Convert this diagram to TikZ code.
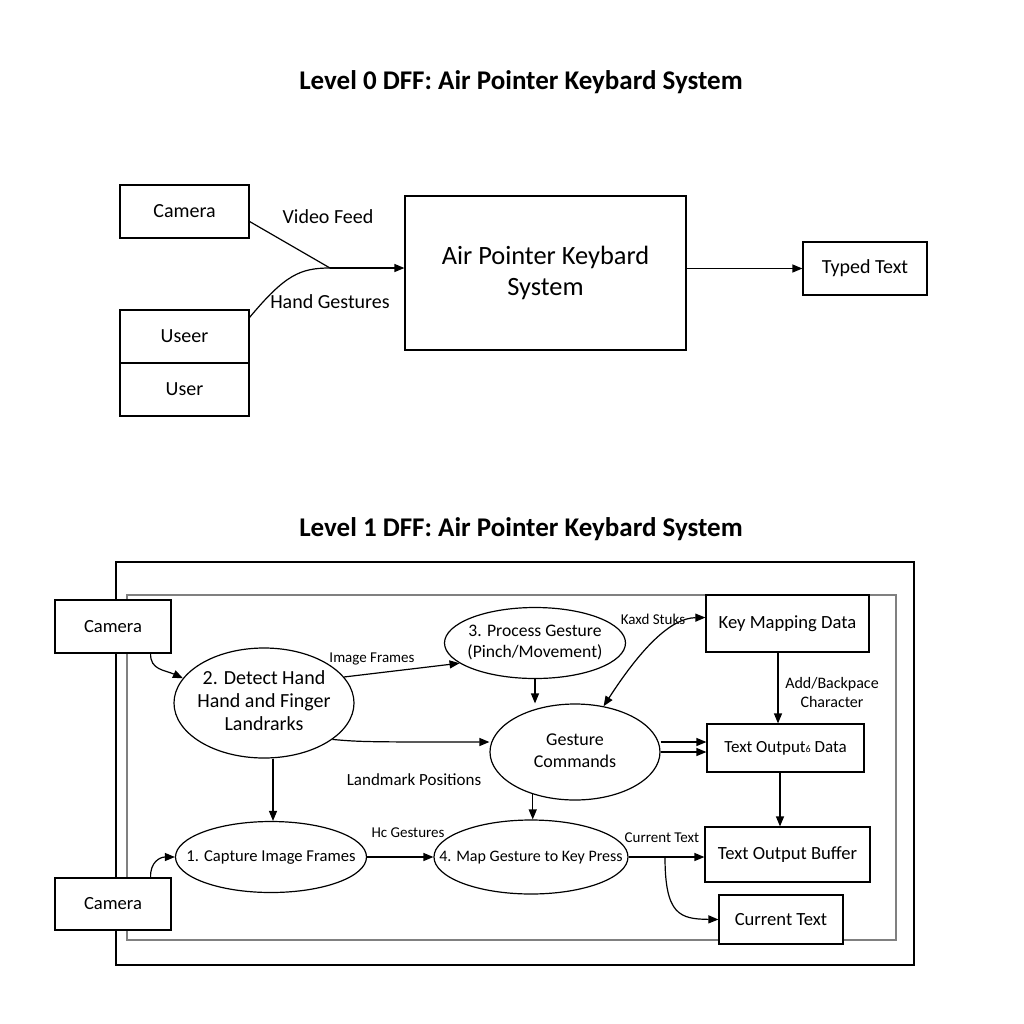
\documentclass[tikz,border=0pt]{standalone}
\usepackage{fontspec}
\setmainfont{Carlito}
\usetikzlibrary{shapes.geometric,arrows.meta,calc}
\newcommand{\zwtext}[1]{\makebox[0pt][c]{\begin{tabular}{@{}c@{}}#1\end{tabular}}}
\begin{document}
\begin{tikzpicture}[x=0.5pt,y=-0.5pt,
  box/.style={draw,line width=0.6pt,inner sep=0pt,align=center,font=\fontsize{10}{12}\selectfont},
  ebox/.style={draw,line width=0.6pt,inner sep=0pt,align=center,font=\fontsize{9.3}{11}\selectfont},
  proc/.style={draw,ellipse,line width=0.6pt,inner sep=0pt,font=\fontsize{8.5}{10.5}\selectfont},
  flow/.style={line width=0.6pt,-{Triangle[length=5pt,width=4pt]}},
  lbl/.style={font=\fontsize{10}{12}\selectfont,inner sep=1pt},
  slbl/.style={font=\fontsize{7.5}{9}\selectfont,inner sep=1pt,align=center},
  title/.style={font=\bfseries\fontsize{13.5}{16}\selectfont}]
\useasboundingbox (0,0) rectangle (1024,1024);
\fill[white] (0,0) rectangle (1024,1024);

% ---------- Level 0 ----------
\node[title] (t0) at (521,82) {Level 0 DFF: Air Pointer Keybard System};
\node[box,minimum width=64.5pt,minimum height=26.5pt] (cam0) at (184.5,211.5) {Camera};
\node[box,minimum width=64.5pt,minimum height=26.5pt] (u1) at (184.5,336.5) {Useer};
\node[box,minimum width=64.5pt,minimum height=26.5pt] (u2) at (184.5,389.5) {User};
\node[box,minimum width=140.5pt,minimum height=77pt,font=\fontsize{13.2}{15.5}\selectfont] (sys) at (545.5,273) {Air Pointer Keybard\\System};
\node[box,minimum width=62pt,minimum height=26.5pt] (typed) at (865,268.5) {Typed Text};
\coordinate (m) at (330,268);
\draw[line width=0.6pt] ($(cam0.east)+(0,10)$) -- (m);
\draw[line width=0.6pt] ($(u1.north east)+(0,8)$) .. controls (285,275) and (300,268) .. (m);
\draw[flow] (m) -- (sys.west |- m);
\draw[flow] (sys.east |- typed) -- (typed.west);
\node[lbl] (vf) at (328,217) {Video Feed};
\node[lbl] (hg) at (330,302) {Hand Gestures};

% ---------- Level 1 ----------
\node[title] (t1) at (521,529) {Level 1 DFF: Air Pointer Keybard System};
\draw[line width=0.7pt] (116,562) rectangle (914,965);
\draw[line width=0.6pt,gray] (127,595) rectangle (896,940);

\node[ebox,fill=white,minimum width=58pt,minimum height=26.5pt] (camA) at (113,626.5) {Camera};
\node[ebox,fill=white,minimum width=58pt,minimum height=26pt] (camB) at (113,904) {Camera};
\node[ebox,fill=white,minimum width=81.5pt,minimum height=28.5pt] (kmd) at (787.5,623.5) {Key Mapping Data};
\node[ebox,fill=white,minimum width=78.5pt,minimum height=24pt,font=\fontsize{8.5}{10}\selectfont] (tod) at (785.5,748) {Text Output{\fontsize{5}{6}\selectfont 6} Data};
\node[ebox,fill=white,minimum width=82.5pt,minimum height=27.5pt] (tob) at (787.5,854.5) {Text Output Buffer};
\node[ebox,fill=white,minimum width=62pt,minimum height=24.5pt] (ct) at (781,919.5) {Current Text};

\node[proc,minimum width=90pt,minimum height=55pt,font=\fontsize{10}{11.5}\selectfont] (p2) at (264,703) {\zwtext{2. Detect Hand\\Hand and Finger\\Landrarks}};
\node[proc,minimum width=90.5pt,minimum height=35.5pt,font=\fontsize{8.8}{10.5}\selectfont] (p3) at (535,643) {\zwtext{3. Process Gesture\\(Pinch/Movement)}};
\node[proc,minimum width=85pt,minimum height=48pt,font=\fontsize{9}{11}\selectfont] (gc) at (575,752) {\zwtext{Gesture\\Commands}};
\node[proc,minimum width=95.5pt,minimum height=35.5pt,font=\fontsize{8.3}{10}\selectfont] (p1) at (271,857) {\zwtext{1. Capture Image Frames}};
\node[proc,minimum width=97pt,minimum height=37pt,font=\fontsize{8}{10}\selectfont] (p4) at (531,857) {\zwtext{4. Map Gesture to Key Press}};

% connectors
\draw[flow] ($(camA.south east)+(-21,0)$) .. controls (150,670) and (165,670) .. (p2.163);
\draw[flow] ($(camB.north east)+(-21,0)$) .. controls (150,862) and (160,857) .. (p1.west);
\draw[flow] (p2.18) -- (p3.195);
\draw[flow] (p2.-28) .. controls (360,742) and (370,742) .. (gc.west |- 0,742);
\draw[flow] (p2.south -| 273,0) -- (p1.north -| 273,0);
\draw[flow] (p3.south) -- (gc.north -| p3.south);
\draw[flow] (gc.225) -- (p4.north -| gc.225);
\draw[flow] (p1.east) -- (p4.west);
\draw[line width=0.6pt,{Triangle[length=5pt,width=4pt]}-{Triangle[length=5pt,width=4pt]}] (gc.58) .. controls (640,650) and (670,618) .. ($(kmd.west)+(0,-6)$);
\draw[flow] (kmd.south -| 778,0) -- (tod.north -| 778,0);
\draw[flow] (gc.east |- 0,742) -- (tod.west |- 0,742);
\draw[flow] (gc.east |- 0,752) -- (tod.west |- 0,752);
\draw[flow] (tod.south -| 780,0) -- (tob.north -| 780,0);
\draw[flow] (p4.east) -- (tob.west |- p4.east);
\coordinate (br) at (665,857);
\draw[flow] (br) .. controls (665,915) and (680,919) .. (ct.west);

% labels
\node[slbl] (l1) at (372,659) {Image Frames};
\node[slbl,font=\fontsize{8.5}{10}\selectfont] (l2) at (414,780) {Landmark Positions};
\node[slbl] (l3) at (408,833) {Hc Gestures};
\node[slbl] (l4) at (653,619) {Kaxd Stuks};
\node[slbl,font=\fontsize{8}{9.5}\selectfont] (l5) at (832,692) {Add/Backpace\\Character};
\node[slbl] (l6) at (662,838) {Current Text};
\end{tikzpicture}
\end{document}
